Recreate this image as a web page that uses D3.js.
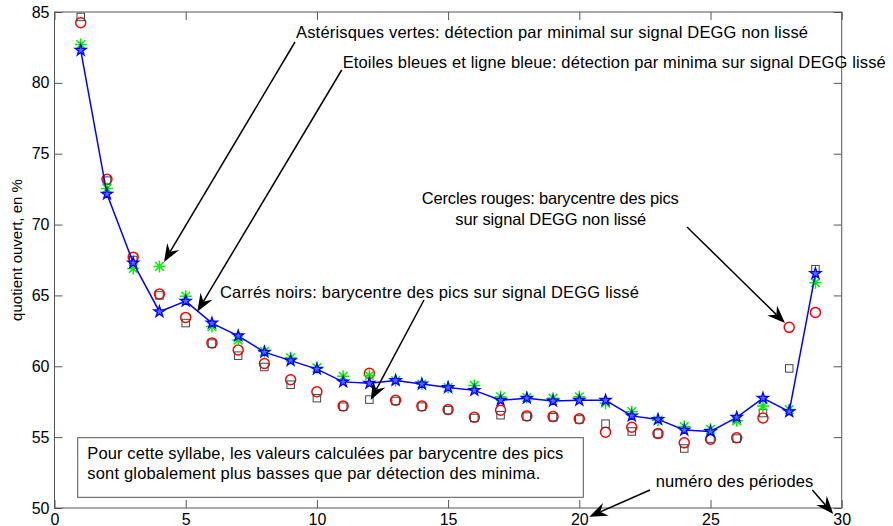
<!DOCTYPE html>
<html>
<head>
<meta charset="utf-8">
<script src="https://cdn.jsdelivr.net/npm/d3@7"></script>
<style>
  body { margin: 0; background: #fff; }
  svg text { font-family: "Liberation Sans", Arial, Helvetica, sans-serif; fill: #000; }
</style>
</head>
<body>
<svg id="chart" width="893" height="526"></svg>
<script>
// périodes 1..29
const periodes = d3.range(1, 30);

// étoiles bleues + ligne (minima, DEGG lissé)
const bleu = [82.3, 72.15, 67.3, 63.85, 64.6, 63.05, 62.15, 61.0, 60.4, 59.8,
  58.9, 58.8, 59.0, 58.75, 58.5, 58.3, 57.6, 57.75, 57.55, 57.6,
  57.6, 56.5, 56.25, 55.5, 55.4, 56.4, 57.75, 56.8, 66.55];

// astérisques vertes (minima, DEGG non lissé)
const vert = [82.7, 72.55, 66.9, 67.05, 64.95, 62.8, 61.85, 61.05, 60.6, 59.9,
  59.3, 59.35, 59.0, 58.75, 58.5, 58.65, 57.85, 57.8, 57.75, 57.85,
  57.4, 56.8, 56.2, 55.75, 55.55, 56.15, 57.2, 56.95, 65.9];

// cercles rouges (barycentre, DEGG non lissé)
const rouge = [84.25, 73.2, 67.7, 65.1, 63.45, 61.65, 61.15, 60.2, 59.05, 58.2,
  57.2, 59.5, 57.6, 57.2, 56.95, 56.4, 56.9, 56.5, 56.45, 56.3,
  55.35, 55.7, 55.25, 54.6, 54.85, 54.95, 56.35, 62.75, 63.8];

// carrés noirs (barycentre, DEGG lissé)
const noir = [84.65, 73.1, 67.5, 65.0, 63.05, 61.6, 60.75, 59.95, 58.7, 57.75,
  57.15, 57.65, 57.55, 57.15, 56.9, 56.35, 56.55, 56.45, 56.4, 56.25,
  55.95, 55.4, 55.25, 54.2, 54.9, 54.9, 56.7, 59.85, 66.85];

const xTicks = [0, 5, 10, 15, 20, 25, 30];
const yTicks = [50, 55, 60, 65, 70, 75, 80, 85];

const svg = d3.select("#chart");
const mLeft = 54.5, mRight = 841.7, mTop = 12, mBottom = 508;

const x = d3.scaleLinear().domain([0, 30]).range([mLeft, mRight]);
const y = d3.scaleLinear().domain([50, 85]).range([mBottom, mTop]);

const axisColor = "#555";

// axes, ticks inward on all sides
const gx = svg.append("g").attr("transform", `translate(0,${mBottom})`)
  .call(d3.axisBottom(x).tickValues(xTicks).tickSizeInner(-8).tickSizeOuter(0).tickPadding(6));
const gy = svg.append("g").attr("transform", `translate(${mLeft},0)`)
  .call(d3.axisLeft(y).tickValues(yTicks).tickSizeInner(-8).tickSizeOuter(0).tickPadding(5));
const gt = svg.append("g").attr("transform", `translate(0,${mTop})`)
  .call(d3.axisTop(x).tickValues(xTicks).tickSizeInner(-8).tickSizeOuter(0).tickFormat(""));
const gr = svg.append("g").attr("transform", `translate(${mRight},0)`)
  .call(d3.axisRight(y).tickValues(yTicks).tickSizeInner(-8).tickSizeOuter(0).tickFormat(""));

[gx, gy, gt, gr].forEach(g => {
  g.select(".domain").remove();
  g.selectAll(".tick line").attr("stroke", axisColor);
  g.selectAll("text").attr("font-size", 16).attr("fill", "#000")
   .style("font-family", '"Liberation Sans", Arial, sans-serif');
});

svg.append("rect")
  .attr("x", mLeft).attr("y", mTop)
  .attr("width", mRight - mLeft).attr("height", mBottom - mTop)
  .attr("fill", "none").attr("stroke", axisColor);

svg.append("text")
  .attr("transform", "translate(16,250) rotate(-90)")
  .attr("text-anchor", "middle")
  .attr("dominant-baseline", "central")
  .attr("font-size", 15)
  .text("quotient ouvert, en %");

// cercles rouges
svg.append("g").selectAll("circle")
  .data(periodes)
  .join("circle")
  .attr("cx", d => x(d)).attr("cy", (d, i) => y(rouge[i]))
  .attr("r", 5).attr("fill", "none").attr("stroke", "#ff0000").attr("stroke-width", 1.5);

// carrés noirs
svg.append("g").selectAll("rect")
  .data(periodes)
  .join("rect")
  .attr("x", d => x(d) - 3.75).attr("y", (d, i) => y(noir[i]) - 3.75)
  .attr("width", 7.5).attr("height", 7.5)
  .attr("fill", "none").attr("stroke", "#444").attr("stroke-width", 1);

// astérisques vertes
const ast = "M-6,0H6M0,-6V6M-4.3,-4.3L4.3,4.3M-4.3,4.3L4.3,-4.3";
svg.append("g").selectAll("path")
  .data(periodes)
  .join("path")
  .attr("transform", (d, i) => `translate(${x(d)},${y(vert[i])})`)
  .attr("d", ast)
  .attr("stroke", "#00ee00").attr("stroke-width", 1.5).attr("fill", "none");

// ligne bleue + étoiles
const line = d3.line().x(d => x(d[0])).y(d => y(d[1]));
svg.append("path")
  .datum(periodes.map((p, i) => [p, bleu[i]]))
  .attr("d", line)
  .attr("fill", "none").attr("stroke", "#0000ff").attr("stroke-width", 1.5);

const star = d3.symbol(d3.symbolStar, 38);
svg.append("g").selectAll("path")
  .data(periodes)
  .join("path")
  .attr("transform", (d, i) => `translate(${x(d)},${y(bleu[i])})`)
  .attr("d", star)
  .attr("fill", "#5566ff").attr("stroke", "#0000ff").attr("stroke-width", 1.3);

// encadré
svg.append("rect")
  .attr("x", 77.7).attr("y", 437.7).attr("width", 505.6).attr("height", 59.6)
  .attr("fill", "#fff").attr("stroke", axisColor);

const notes = [
  { t: "Astérisques vertes: détection par minimal sur signal DEGG non lissé", x: 296, y: 31.5, a: "start", w: 512 },
  { t: "Etoiles bleues et ligne bleue: détection par minima sur signal DEGG lissé", x: 342.7, y: 61.5, a: "start", w: 543 },
  { t: "Cercles rouges: barycentre des pics", x: 550.3, y: 198, a: "middle", w: 257 },
  { t: "sur signal DEGG non lissé", x: 550.8, y: 219, a: "middle", w: 191 },
  { t: "Carrés noirs: barycentre des pics sur signal DEGG lissé", x: 220, y: 291.5, a: "start", w: 419 },
  { t: "Pour cette syllabe, les valeurs calculées par barycentre des pics", x: 87.3, y: 452.5, a: "start", w: 476 },
  { t: "sont globalement plus basses que par détection des minima.", x: 87.3, y: 473.3, a: "start", w: 453 },
  { t: "numéro des périodes", x: 655.7, y: 480.7, a: "start", w: 157.6 }
];
svg.append("g").selectAll("text")
  .data(notes)
  .join("text")
  .attr("x", d => d.x).attr("y", d => d.y)
  .attr("text-anchor", d => d.a)
  .attr("dominant-baseline", "central")
  .attr("font-size", 16.5)
  .attr("textLength", d => d.w)
  .attr("lengthAdjust", "spacing")
  .text(d => d.t);

// flèches
const arrows = [
  [295, 42, 164, 262],
  [341.7, 70, 197.3, 311.7],
  [687, 227, 785, 323],
  [424, 300, 370.7, 400],
  [650, 490, 589.3, 516.7],
  [812.3, 490, 833.3, 514]
];
const ga = svg.append("g");
arrows.forEach(([x1, y1, x2, y2]) => {
  const ang = Math.atan2(y2 - y1, x2 - x1);
  const bx = x2 - 12 * Math.cos(ang), by = y2 - 12 * Math.sin(ang);
  ga.append("line")
    .attr("x1", x1).attr("y1", y1).attr("x2", bx).attr("y2", by)
    .attr("stroke", "#000").attr("stroke-width", 1.5);
  ga.append("path")
    .attr("transform", `translate(${x2},${y2}) rotate(${ang * 180 / Math.PI})`)
    .attr("d", "M0,0L-18,-7L-12,0L-18,7Z")
    .attr("fill", "#000");
});
</script>
</body>
</html>
